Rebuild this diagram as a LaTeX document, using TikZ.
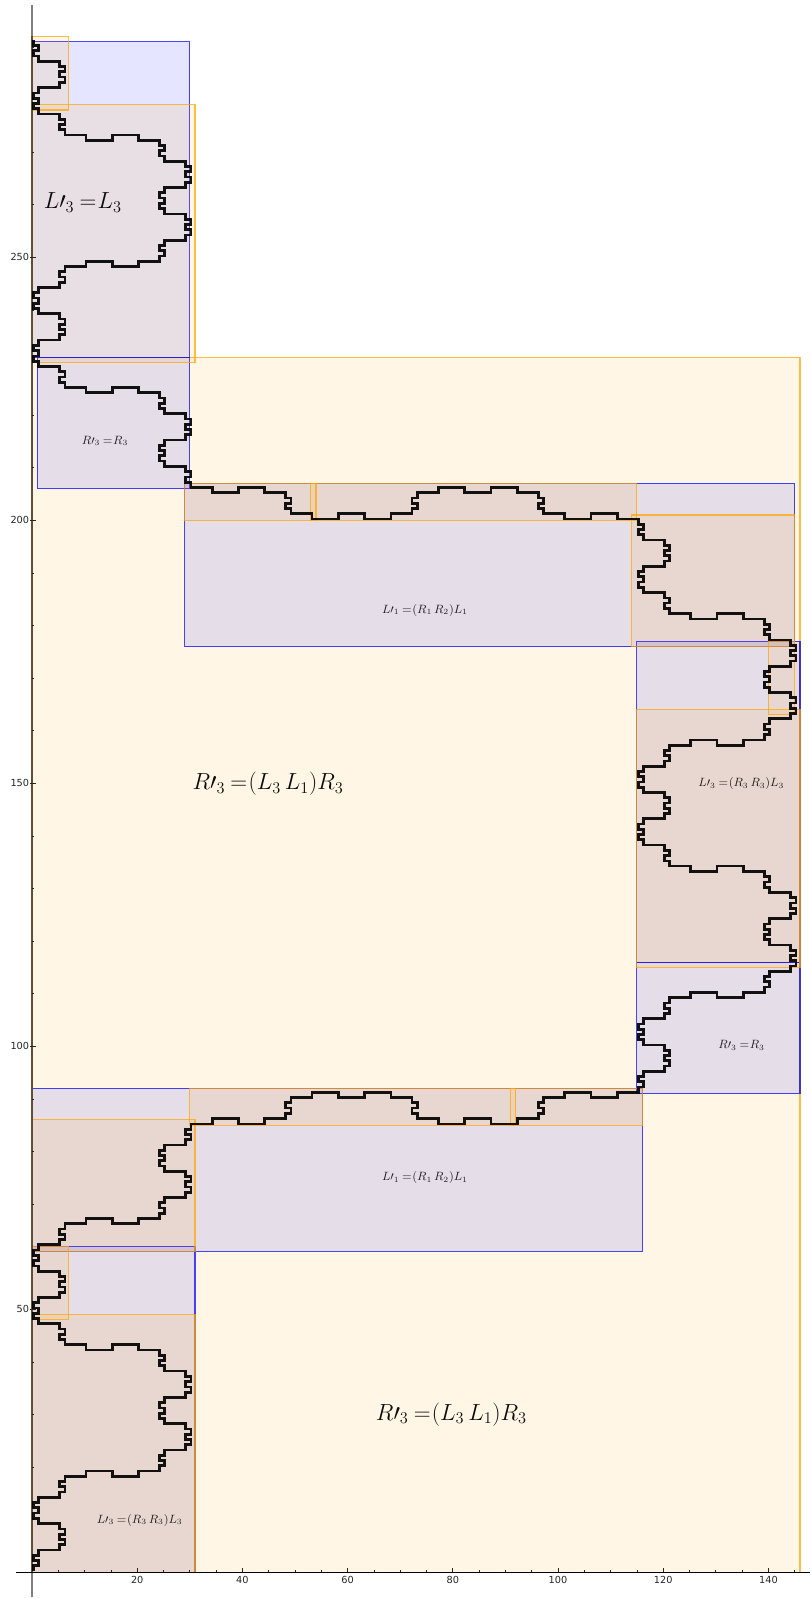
\RequirePackage{fix-cm}
\documentclass[tikz,border=0pt]{standalone}
\usepackage[no-math]{fontspec}
\newfontfamily\tickfont{DejaVu Sans}
\definecolor{bluebox}{RGB}{0,0,255}
\definecolor{orangebox}{RGB}{255,165,0}
\definecolor{axisedge}{RGB}{98,76,52}
\tikzset{
  bluerect/.style={draw=bluebox,fill=bluebox,fill opacity=0.1,draw opacity=0.72,line width=0.85pt,line join=miter},
  orangerect/.style={draw=orangebox,fill=orangebox,fill opacity=0.1,draw opacity=0.72,line width=0.85pt,line join=miter},
  boundarycurve/.style={draw=black,draw opacity=0.92,line width=2.05pt,line join=miter,line cap=butt},
  biglabel/.style={anchor=base,inner sep=0pt,font=\fontsize{17.5}{20}\selectfont,opacity=0.95},
  smalllabel/.style={anchor=base,inner sep=0pt,font=\fontsize{9}{11}\selectfont,opacity=0.85},
  ticklabel/.style={inner sep=0pt,font=\tickfont\fontsize{7.3}{9}\selectfont,text=black!85},
  tickline/.style={line width=0.5pt,draw=black!85}
}
% unit moves of the staircase
\def\Ra{-- ++(4,0)}
\def\La{-- ++(-4,0)}
\def\RD{-- ++(1,0) -- ++(0,-1)}
\def\EA{-- ++(0,-1) -- ++(1,0) -- ++(0,-1) -- ++(-1,0) -- ++(0,-1) -- ++(1,0) -- ++(0,-1)}
\def\EB{-- ++(0,-1) -- ++(1,0) -- ++(0,-1) -- ++(-1,0) -- ++(0,-1) -- ++(1,0) -- ++(0,-1) -- ++(-1,0) -- ++(0,-1)}
\def\EC{-- ++(0,-1) -- ++(-1,0) -- ++(0,-1) -- ++(1,0) -- ++(0,-1) -- ++(-1,0) -- ++(0,-1)}
\def\ED{-- ++(0,-1) -- ++(-1,0) -- ++(0,-1) -- ++(1,0) -- ++(0,-1) -- ++(-1,0) -- ++(0,-1) -- ++(1,0) -- ++(0,-1)}
\def\UA{-- ++(0,1) -- ++(1,0) -- ++(0,1) -- ++(-1,0) -- ++(0,1) -- ++(1,0) -- ++(0,1)}
\def\UC{-- ++(0,1) -- ++(-1,0) -- ++(0,1) -- ++(1,0) -- ++(0,1) -- ++(-1,0) -- ++(0,1)}
\def\WR{-- ++(0,-1) -- ++(5,0) -- ++(0,1) -- ++(5,0) -- ++(0,-1)}
\def\WL{-- ++(0,-1) -- ++(-5,0) -- ++(0,1) -- ++(-5,0) -- ++(0,-1)}
\begin{document}
\begin{tikzpicture}[x=3.945pt,y=3.945pt]
\useasboundingbox (-6.084,-4.886) rectangle (147.909,298.916);
% axes
\coordinate (ytop) at (0,297.9);
\coordinate (ybot) at (0,-4.75);
\coordinate (yfilltop) at (0,292);
\coordinate (yfillbot) at (0,0);
\coordinate (xleft) at (-3.04,0);
\coordinate (xright) at (147.909,0);
\draw[line width=1.1pt,draw=black!50] (ybot) -- (ytop);
% big orange background
\path[orangerect] (0,0) rectangle (146,231);
% blue rectangles
\path[bluerect] (0,231) rectangle (30,291);
\path[bluerect] (1,206) rectangle (30,231);
\path[bluerect] (29,176) rectangle (145,207);
\path[bluerect] (115,116) rectangle (146,177);
\path[bluerect] (115,91) rectangle (146,116);
\path[bluerect] (0,61) rectangle (116,92);
\path[bluerect] (0,0) rectangle (31,62);
% orange rectangles
\path[orangerect] (0,278) rectangle (7,292);
\path[orangerect] (0,230) rectangle (31,279);
\path[orangerect] (29,200) rectangle (54,207);
\path[orangerect] (53,200) rectangle (115,207);
\path[orangerect] (114,176) rectangle (145,201);
\path[orangerect] (140,163) rectangle (145,177);
\path[orangerect] (115,115) rectangle (146,164);
\path[orangerect] (30,85) rectangle (92,92);
\path[orangerect] (91,85) rectangle (116,92);
\path[orangerect] (0,61) rectangle (31,86);
\path[orangerect] (0,48) rectangle (7,62);
\path[orangerect] (0,0) rectangle (31,49);
\draw[line width=1.1pt,draw=axisedge] (yfillbot) -- (yfilltop);
% x axis and ticks
\draw[line width=0.75pt,draw=black] (xleft) -- (xright);
\foreach \t in {5,10,...,145} \draw[tickline] (\t,0) -- (\t,0.4);
\foreach \t in {20,40,...,140} {
  \draw[tickline] (\t,0) -- (\t,0.8);
  \node[ticklabel] (xlab\t) at (\t,-1.5) {\t};
}
\foreach \t in {10,20,...,290} \draw[tickline] (0,\t) -- (0.4,\t);
\foreach \t in {50,100,...,250} {
  \draw[tickline] (-0.3,\t) -- (0.8,\t);
  \node[ticklabel,anchor=east] (ylab\t) at (-0.5,\t) {\t};
}
% the staircase boundary
\begin{scope}[shift={(0.25,0.25)}]
\coordinate (curvestart) at (0,291);
\draw[boundarycurve] (curvestart)
  \EA \Ra \EB \La \EC
  \RD \Ra \EA \Ra \WR \Ra \EA \Ra \EB \La \ED \Ra \EB \La \EC \La \WL \La \EC \La \ED \Ra \EB \La \EC
  \RD \Ra \EA \Ra \WR \Ra \EA \Ra \EB \La \ED \Ra \EA \Ra \WR \Ra \EA \Ra
  \WR -- ++(5,0) -- ++(0,1) \Ra \UA \Ra
  -- ++(0,1) -- ++(5,0) -- ++(0,-1) -- ++(5,0) -- ++(0,1) -- ++(5,0) -- ++(0,-1) \Ra
  \EA \Ra \WR \Ra \EA \Ra \EB \La \ED \Ra \EA \Ra \WR \Ra \EA \Ra \EB \La \ED \Ra \EB \La \EC \La
  \WL \La \EC \La \ED \Ra \EB \La \ED \Ra \EA \Ra \WR \Ra \EA \Ra \EB \La \ED \Ra \EB \La \EC \La
  \WL \La \EC \La \ED \Ra \EB \La \EC \La \WL \La \EC \La
  \WL -- ++(-5,0) -- ++(0,1) \La \UC \La
  -- ++(0,1) -- ++(-5,0) -- ++(0,-1) -- ++(-5,0) -- ++(0,1) -- ++(-5,0) -- ++(0,-1) \La
  \EC \La \WL \La \EC \La \ED \Ra \EB \La \EC \La \WL \La \EC \La \ED \Ra \EB \La \EC
  \RD \Ra \EA \Ra \WR \Ra \EA \Ra \EB \La \ED \Ra \EB \La \EC \La \WL \La \EC \La \ED \Ra \EB \La \EC;
\end{scope}
% labels
\node[biglabel] (lab1) at (9.66,259.2) {$L\prime_3\mkern4mu{=}\mkern1mu L_3$};
\node[smalllabel] (lab2) at (13.88,214.5) {$R\prime_3\mkern4mu{=}\mkern1mu R_3$};
\node[smalllabel] (lab3) at (74.7,182.3) {$L\prime_1\mkern4mu{=}\mkern1mu(R_1\,R_2)L_1$};
\node[biglabel] (lab4) at (44.87,148.8) {$R\prime_3\mkern4mu{=}\mkern1mu(L_3\,L_1)R_3$};
\node[smalllabel] (lab5) at (134.85,149.35) {$L\prime_3\mkern4mu{=}\mkern1mu(R_3\,R_3)L_3$};
\node[smalllabel] (lab6) at (134.9,99.5) {$R\prime_3\mkern4mu{=}\mkern1mu R_3$};
\node[smalllabel] (lab7) at (74.7,74.4) {$L\prime_1\mkern4mu{=}\mkern1mu(R_1\,R_2)L_1$};
\node[biglabel] (lab8) at (79.73,28.9) {$R\prime_3\mkern4mu{=}\mkern1mu(L_3\,L_1)R_3$};
\node[smalllabel] (lab9) at (20.47,9.3) {$L\prime_3\mkern4mu{=}\mkern1mu(R_3\,R_3)L_3$};
\end{tikzpicture}
\end{document}
